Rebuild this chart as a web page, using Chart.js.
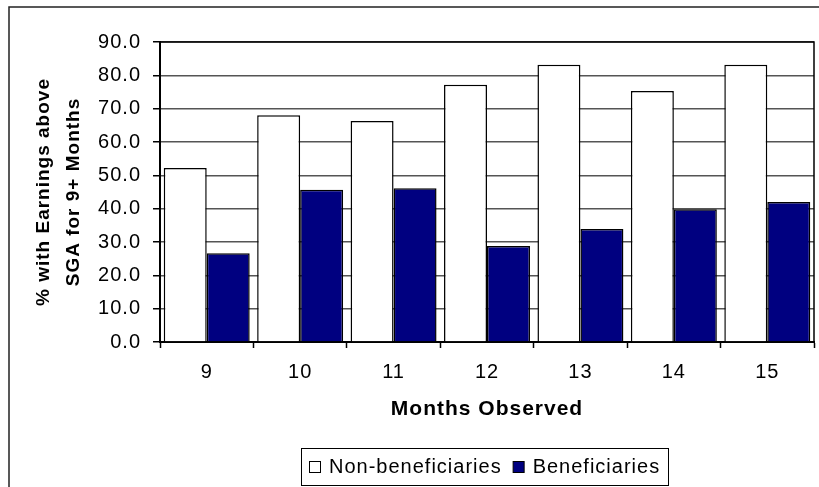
<!DOCTYPE html>
<html>
<head>
<meta charset="utf-8">
<script src="https://cdn.jsdelivr.net/npm/chart.js@4/dist/chart.umd.min.js"></script>
<style>
  html, body { margin: 0; padding: 0; background: #fff; overflow: hidden; }
  canvas { display: block; }
</style>
</head>
<body>
<canvas id="chart" width="819" height="487"></canvas>
<script>
// Share of people with earnings above SGA for 9+ months, by months observed
const months = ['9', '10', '11', '12', '13', '14', '15'];
const nonBeneficiaries = [52.2, 68.0, 66.3, 77.2, 83.2, 75.3, 83.2];
const beneficiaries = [26.6, 45.7, 46.1, 28.8, 33.9, 39.8, 42.0];
const seriesNames = ['Non-beneficiaries', 'Beneficiaries'];
const yTitleLines = ['% with Earnings above', 'SGA for 9+ Months'];
const xTitleText = 'Months Observed';
const yMin = 0, yMax = 90, yStep = 10;

const FONT = '"Liberation Sans", Arial, Helvetica, sans-serif';
const TRACKING = '1px';

Chart.defaults.font.family = FONT;
Chart.defaults.color = '#000';

// White page, outer frame, slight tracking for every label
const pageFrame = {
  id: 'pageFrame',
  beforeDraw(chart) {
    const ctx = chart.ctx;
    ctx.save();
    ctx.fillStyle = '#fff';
    ctx.fillRect(0, 0, chart.width, chart.height);
    ctx.strokeStyle = '#222';
    ctx.lineWidth = 1.5;
    ctx.beginPath();
    ctx.moveTo(9, chart.height + 5);
    ctx.lineTo(9, 7);
    ctx.lineTo(chart.width + 5, 7);
    ctx.stroke();
    ctx.restore();
    ctx.letterSpacing = TRACKING;
  }
};

// Top and right edges of the plot area
const plotFrame = {
  id: 'plotFrame',
  afterDatasetsDraw(chart) {
    const { ctx, chartArea: a } = chart;
    ctx.save();
    ctx.strokeStyle = '#000';
    ctx.lineWidth = 1.5;
    ctx.beginPath();
    ctx.moveTo(a.left, a.top);
    ctx.lineTo(a.right, a.top);
    ctx.lineTo(a.right, a.bottom);
    ctx.stroke();
    ctx.restore();
  }
};

// Legend in a bordered box below the axis title
const boxedLegend = {
  id: 'boxedLegend',
  afterDraw(chart) {
    const { ctx, chartArea: a } = chart;
    ctx.save();
    ctx.letterSpacing = TRACKING;
    ctx.font = '20px ' + FONT;
    const items = chart.data.datasets.map(ds => ({
      label: ds.label,
      fill: ds.backgroundColor,
      w: ctx.measureText(ds.label).width
    }));
    const pad = 8, sw = 12, gap = 8, itemGap = 11, h = 37, top = 448;
    const total = pad * 2 + items.reduce((s, it) => s + sw + gap + it.w, 0) + itemGap * (items.length - 1);
    const left = Math.round((a.left + a.right) / 2 - total / 2) - 2;
    ctx.strokeStyle = '#000';
    ctx.lineWidth = 1;
    ctx.strokeRect(left + 0.5, top + 0.5, Math.round(total), h);
    const cy = top + h / 2 + 0.5;
    let x = left + pad;
    ctx.textBaseline = 'middle';
    ctx.textAlign = 'left';
    items.forEach(it => {
      ctx.fillStyle = it.fill;
      ctx.fillRect(x + 0.5, Math.round(cy - sw / 2) + 0.5, sw - 1, sw - 1);
      ctx.strokeRect(x + 0.5, Math.round(cy - sw / 2) + 0.5, sw - 1, sw - 1);
      ctx.fillStyle = '#000';
      ctx.fillText(it.label, x + sw + gap, cy);
      x += sw + gap + it.w + itemGap;
    });
    ctx.restore();
  }
};

new Chart(document.getElementById('chart'), {
  type: 'bar',
  data: {
    labels: months,
    datasets: [
      {
        label: seriesNames[0],
        data: nonBeneficiaries,
        backgroundColor: '#ffffff',
        borderColor: '#000',
        borderWidth: 1.5
      },
      {
        label: seriesNames[1],
        data: beneficiaries,
        backgroundColor: '#000080',
        borderColor: '#000',
        borderWidth: 1.5
      }
    ]
  },
  options: {
    responsive: false,
    animation: false,
    devicePixelRatio: 1,
    layout: { padding: { left: 0, right: 5, top: 42, bottom: 65 } },
    datasets: { bar: { categoryPercentage: 0.92, barPercentage: 1 } },
    plugins: { legend: { display: false }, tooltip: { enabled: false } },
    scales: {
      x: {
        grid: { offset: true, drawOnChartArea: false, tickLength: 6, tickColor: '#000', tickWidth: 1.5 },
        border: { color: '#000', width: 2 },
        ticks: { color: '#000', font: { size: 20 }, padding: 12 },
        title: {
          display: true, text: xTitleText, color: '#000',
          font: { size: 21, weight: 'bold' }, padding: { top: 0, bottom: 0 }
        },
        afterFit(scale) { scale.height = 80; }
      },
      y: {
        min: yMin, max: yMax,
        grid: { color: '#555', lineWidth: 1.5, tickLength: 7, tickColor: '#000', tickWidth: 1.5 },
        border: { color: '#000', width: 2 },
        ticks: { stepSize: yStep, color: '#000', font: { size: 20 }, padding: 12, callback: v => v.toFixed(1) },
        title: {
          display: true, text: yTitleLines, color: '#000',
          font: { size: 19, weight: 'bold', lineHeight: '30px' }, padding: { top: 29, bottom: 0 }
        },
        afterFit(scale) { scale.width = 160; }
      }
    }
  },
  plugins: [pageFrame, plotFrame, boxedLegend]
});
</script>
</body>
</html>
